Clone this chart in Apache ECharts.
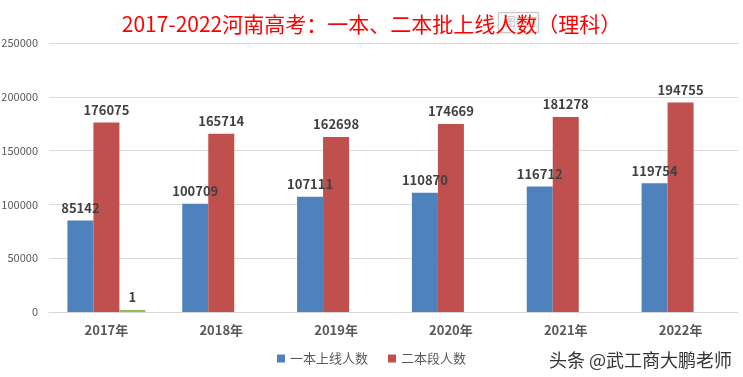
<!DOCTYPE html>
<html>
<head>
<meta charset="UTF-8">
<title>2017-2022河南高考</title>
<script src="https://cdn.jsdelivr.net/npm/echarts@6/dist/echarts.min.js"></script>
<style>
  html, body { margin: 0; padding: 0; background: #fff; }
  #chart { width: 743px; height: 377px; }
</style>
</head>
<body>
<div id="chart"></div>
<script>
// data
const years = ["2017年", "2018年", "2019年", "2020年", "2021年", "2022年"];
const firstTier = [85142, 100709, 107111, 110870, 116712, 119754];
const secondTier = [176075, 165714, 162698, 174669, 181278, 194755];
const thirdSeries = [1, null, null, null, null, null]; // stray series in the original
const yTicks = [0, 50000, 100000, 150000, 200000, 250000];

const font = '"Noto Sans CJK SC", "Noto Sans", sans-serif';
const labelStyle = {
  show: true,
  position: "top",
  distance: 6,
  color: "#404040",
  fontSize: 13,
  fontWeight: "bold",
  fontFamily: font,
};

const chart = echarts.init(document.getElementById("chart"));

chart.setOption({
  animation: false,
  title: {
    text: "2017-2022河南高考：一本、二本批上线人数（理科）",
    left: "center",
    top: 9,
    textStyle: { color: "#ff0000", fontSize: 21, fontWeight: "normal", fontFamily: font },
  },
  grid: { left: 49, right: 5, top: 43, bottom: 65, outerBoundsMode: "none" },
  legend: {
    data: ["一本上线人数", "二本段人数"],
    bottom: 7,
    left: 272,
    itemWidth: 8,
    itemHeight: 8,
    itemGap: 20,
    icon: "rect",
    textStyle: { color: "#595959", fontSize: 13, fontFamily: font },
  },
  xAxis: {
    type: "category",
    data: years,
    axisTick: { show: false },
    axisLine: { lineStyle: { color: "#d9d9d9" } },
    axisLabel: { color: "#595959", fontSize: 13, fontWeight: "bold", margin: 12, fontFamily: font },
  },
  yAxis: {
    type: "value",
    min: yTicks[0],
    max: yTicks[yTicks.length - 1],
    interval: yTicks[1] - yTicks[0],
    axisLabel: { color: "#595959", fontSize: 11, margin: 11, fontFamily: font, formatter: (v) => String(v) },
    splitLine: { lineStyle: { color: "#d9d9d9" } },
  },
  series: [
    {
      name: "一本上线人数",
      type: "bar",
      data: firstTier,
      barWidth: 26,
      barGap: "0%",
      itemStyle: { color: "#4f81bd" },
      label: labelStyle,
    },
    {
      name: "二本段人数",
      type: "bar",
      data: secondTier,
      barWidth: 26,
      barGap: "0%",
      itemStyle: { color: "#c0504d" },
      label: labelStyle,
    },
    {
      name: "系列3",
      type: "bar",
      data: thirdSeries,
      barWidth: 26,
      barGap: "0%",
      barMinHeight: 2,
      itemStyle: { color: "#9bbb59" },
      label: labelStyle,
    },
  ],
  graphic: [
    {
      type: "group",
      left: 498,
      top: 12,
      children: [
        {
          type: "rect",
          shape: { x: 0, y: 0, width: 40, height: 20 },
          style: { fill: "rgba(255,255,255,0.85)", stroke: "#c8c8c8", lineWidth: 1, shadowBlur: 3, shadowColor: "rgba(0,0,0,0.15)" },
        },
        {
          type: "text",
          x: 6,
          y: 4,
          style: { text: "图表区", fill: "#bdbdbd", fontSize: 11, fontFamily: font },
        },
      ],
    },
    {
      type: "text",
      right: 10,
      bottom: 7,
      style: {
        text: "头条 @武工商大鹏老师",
        fill: "#333333",
        fontSize: 18,
        fontFamily: font,
        stroke: "#ffffff",
        lineWidth: 2,
      },
    },
  ],
});
</script>
</body>
</html>
